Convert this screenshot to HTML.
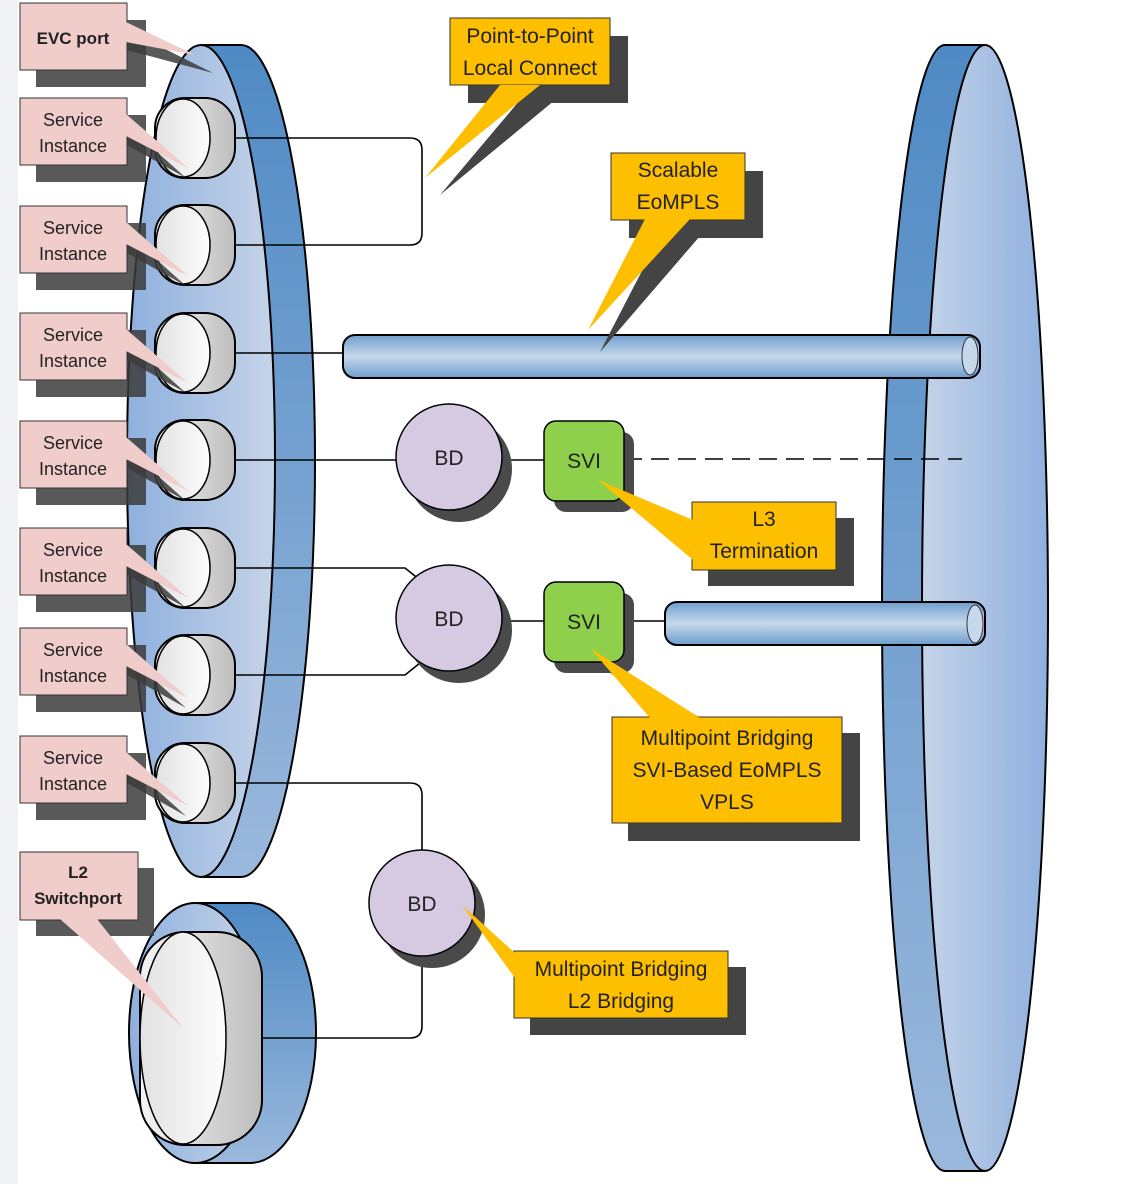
<!DOCTYPE html>
<html><head><meta charset="utf-8"><style>
html,body{margin:0;padding:0;background:#fff;}
svg{display:block;font-family:"Liberation Sans",Arial,sans-serif;}
</style></head><body>
<svg width="1135" height="1184" viewBox="0 0 1135 1184" xmlns="http://www.w3.org/2000/svg">
<defs>
<linearGradient id="face" x1="0" x2="1" y1="0" y2="0"><stop offset="0" stop-color="#8eb0de"/><stop offset="1" stop-color="#c6d4e8"/></linearGradient>
<linearGradient id="face2" x1="0" x2="1" y1="0" y2="0"><stop offset="0" stop-color="#c4d3e9"/><stop offset="1" stop-color="#8fb0de"/></linearGradient>
<linearGradient id="rim" x1="0" x2="0" y1="0" y2="1"><stop offset="0" stop-color="#4f8ac4"/><stop offset="1" stop-color="#9ab8dc"/></linearGradient>
<linearGradient id="cylb" x1="0" x2="1" y1="0" y2="0"><stop offset="0" stop-color="#f4f4f4"/><stop offset="1" stop-color="#bdbdbd"/></linearGradient>
<linearGradient id="cylf" x1="0" x2="1" y1="0" y2="0"><stop offset="0" stop-color="#e2e2e2"/><stop offset="1" stop-color="#fdfdfd"/></linearGradient>
<linearGradient id="pipe" x1="0" x2="0" y1="0" y2="1"><stop offset="0" stop-color="#6f9fcf"/><stop offset="0.5" stop-color="#c6d8ea"/><stop offset="1" stop-color="#6d9dcd"/></linearGradient>
</defs>
<rect x="0" y="0" width="18" height="1184" fill="#f1f2f4"/>

<!-- right disk -->
<ellipse cx="945" cy="608" rx="63" ry="563" fill="url(#rim)" stroke="#000" stroke-width="2"/>
<rect x="945" y="45" width="40" height="1126" fill="url(#rim)"/>
<ellipse cx="985" cy="608" rx="63" ry="563" fill="url(#face2)" stroke="#000" stroke-width="2"/>
<path d="M945 45 H985 M945 1171 H985" stroke="#000" stroke-width="2"/>

<!-- left disk -->
<ellipse cx="241" cy="461" rx="74" ry="416" fill="url(#rim)" stroke="#000" stroke-width="2"/>
<rect x="201" y="45" width="40" height="832" fill="url(#rim)"/>
<ellipse cx="201" cy="461" rx="74" ry="416" fill="url(#face)" stroke="#000" stroke-width="2"/>
<path d="M201 45 H241 M201 877 H241" stroke="#000" stroke-width="2"/>

<!-- L2 switchport disk -->
<ellipse cx="250" cy="1033" rx="66" ry="130" fill="url(#rim)" stroke="#000" stroke-width="2"/>
<rect x="195" y="903" width="55" height="260" fill="url(#rim)"/>
<ellipse cx="195" cy="1033" rx="66" ry="130" fill="url(#face)" stroke="#000" stroke-width="2"/>
<path d="M195 903 H250 M195 1163 H250" stroke="#000" stroke-width="2"/>
<rect x="140" y="932" width="122" height="213" rx="45" fill="url(#cylb)" stroke="#000" stroke-width="2"/>
<ellipse cx="183" cy="1038" rx="43" ry="106" fill="url(#cylf)" stroke="#000" stroke-width="1.5"/>

<!-- connectors -->
<g fill="none" stroke="#000" stroke-width="1.6">
<path d="M235 138 H410 Q422 138 422 150 V233 Q422 245 410 245 H235"/>
<path d="M235 353 H343"/>
<path d="M235 460 H400"/>
<path d="M500 460 H544"/>
<path d="M235 568 H405 L420 580"/>
<path d="M235 675 H405 L420 663"/>
<path d="M500 621 H544 M624 621 H665"/>
<path d="M235 783 H410 Q422 783 422 795 V850"/>
<path d="M422 956 V1026 Q422 1038 410 1038 H262"/>
<path d="M624 459 H962" stroke-dasharray="18 9"/>
</g>

<!-- cylinders -->
<g stroke="#000" stroke-width="2">
<g id="c1"><rect x="155" y="98" width="80" height="80" rx="30" fill="url(#cylb)"/><ellipse cx="183" cy="138" rx="27" ry="39" fill="url(#cylf)" stroke-width="1.5"/></g>
<use href="#c1" y="107"/><use href="#c1" y="215"/><use href="#c1" y="322"/><use href="#c1" y="430"/><use href="#c1" y="537"/><use href="#c1" y="645"/>
</g>

<!-- pipes -->
<rect x="343" y="335" width="637" height="43" rx="12" fill="url(#pipe)" stroke="#000" stroke-width="2"/>
<ellipse cx="970" cy="356" rx="8" ry="19" fill="#c6d8ea" stroke="#334" stroke-width="1"/>
<rect x="665" y="602" width="320" height="43" rx="12" fill="url(#pipe)" stroke="#000" stroke-width="2"/>
<ellipse cx="975" cy="624" rx="8" ry="19" fill="#c6d8ea" stroke="#334" stroke-width="1"/>

<!-- BD / SVI -->
<g font-size="21" text-anchor="middle" fill="#222">
<circle cx="459" cy="469" r="53" fill="#4a4a4a"/><circle cx="449" cy="457" r="53" fill="#d6c9e2" stroke="#000" stroke-width="1.5"/><text x="449" y="465">BD</text>
<circle cx="459" cy="630" r="53" fill="#4a4a4a"/><circle cx="449" cy="618" r="53" fill="#d6c9e2" stroke="#000" stroke-width="1.5"/><text x="449" y="626">BD</text>
<circle cx="432" cy="915" r="53" fill="#4a4a4a"/><circle cx="422" cy="903" r="53" fill="#d6c9e2" stroke="#000" stroke-width="1.5"/><text x="422" y="911">BD</text>
<rect x="554" y="432" width="80" height="80" rx="12" fill="#4a4a4a"/><rect x="544" y="421" width="80" height="80" rx="12" fill="#8ecf4c" stroke="#000" stroke-width="1.5"/><text x="584" y="468">SVI</text>
<rect x="554" y="593" width="80" height="80" rx="12" fill="#4a4a4a"/><rect x="544" y="582" width="80" height="80" rx="12" fill="#8ecf4c" stroke="#000" stroke-width="1.5"/><text x="584" y="629">SVI</text>
</g>

<!-- pink callouts -->
<g font-size="18" text-anchor="middle" fill="#222">
<g fill-opacity="0.85" fill="#3c3c3c">
<rect x="36" y="20" width="110" height="67"/>
<rect x="36" y="115" width="110" height="67"/><rect x="36" y="223" width="110" height="67"/><rect x="36" y="330" width="110" height="67"/><rect x="36" y="438" width="110" height="67"/><rect x="36" y="545" width="110" height="67"/><rect x="36" y="645" width="110" height="67"/><rect x="36" y="753" width="110" height="67"/>
<rect x="36" y="868" width="118" height="68"/>
<path d="M127 30 L213 73 L127 50Z M127 125 L186 178 L127 145Z M127 233 L186 286 L127 253Z M127 340 L186 393 L127 360Z M127 448 L186 501 L127 468Z M127 555 L186 608 L127 575Z M127 655 L186 708 L127 675Z M127 763 L186 816 L127 783Z"/>
</g>
<g fill="#f0cccb" stroke="#333" stroke-width="1">
<rect x="20" y="3" width="107" height="67"/>
<path d="M126 22 L195 55 L126 42Z" stroke="none"/>
<g id="pk"><rect x="20" y="98" width="107" height="67"/><path d="M126 114 L188 168 L126 136Z" stroke="none"/></g>
<use href="#pk" y="108"/><use href="#pk" y="215"/><use href="#pk" y="323"/><use href="#pk" y="430"/><use href="#pk" y="530"/><use href="#pk" y="638"/>
<rect x="20" y="852" width="118" height="68"/>
<path d="M60 919 L183 1028 L97 919Z" stroke="none"/>
</g>
<text x="73" y="44" font-weight="bold" font-size="17">EVC port</text>
<g font-size="18">
<text x="73" y="126">Service</text><text x="73" y="152">Instance</text>
<text x="73" y="234">Service</text><text x="73" y="260">Instance</text>
<text x="73" y="341">Service</text><text x="73" y="367">Instance</text>
<text x="73" y="449">Service</text><text x="73" y="475">Instance</text>
<text x="73" y="556">Service</text><text x="73" y="582">Instance</text>
<text x="73" y="656">Service</text><text x="73" y="682">Instance</text>
<text x="73" y="764">Service</text><text x="73" y="790">Instance</text>
</g>
<text x="78" y="878" font-weight="bold" font-size="17">L2</text><text x="78" y="904" font-weight="bold" font-size="17">Switchport</text>
</g>

<!-- yellow callouts -->
<g font-size="21" text-anchor="middle" fill="#222">
<g fill="#444">
<rect x="468" y="36" width="160" height="67"/><path d="M520 100 L440 195 L555 100Z"/>
<rect x="629" y="171" width="134" height="67"/><path d="M660 236 L600 352 L700 236Z"/>
<rect x="708" y="518" width="146" height="68"/><path d="M708 540 L620 495 L708 570Z"/>
<rect x="628" y="733" width="232" height="108"/><path d="M680 733 L605 668 L730 733Z"/>
<rect x="530" y="967" width="216" height="68"/><path d="M530 975 L475 915 L530 995Z"/>
</g>
<g fill="#fdbf00" stroke="#333" stroke-width="1">
<rect x="450" y="18" width="160" height="67"/><path d="M500 85 L425 178 L540 85Z" stroke="none"/>
<rect x="611" y="153" width="134" height="67"/><path d="M645 219 L588 330 L690 219Z" stroke="none"/>
<rect x="692" y="502" width="144" height="68"/><path d="M693 520 L598 480 L693 560Z" stroke="none"/>
<rect x="612" y="717" width="230" height="106"/><path d="M700 718 L590 648 L650 718Z" stroke="none"/>
<rect x="514" y="951" width="214" height="67"/><path d="M515 953 L462 905 L515 978Z" stroke="none"/>
</g>
<text x="530" y="43">Point-to-Point</text><text x="530" y="75">Local Connect</text>
<text x="678" y="177">Scalable</text><text x="678" y="209">EoMPLS</text>
<text x="764" y="526">L3</text><text x="764" y="558">Termination</text>
<text x="727" y="745">Multipoint Bridging</text><text x="727" y="777">SVI-Based EoMPLS</text><text x="727" y="809">VPLS</text>
<text x="621" y="976">Multipoint Bridging</text><text x="621" y="1008">L2 Bridging</text>
</g>
</svg>
</body></html>
